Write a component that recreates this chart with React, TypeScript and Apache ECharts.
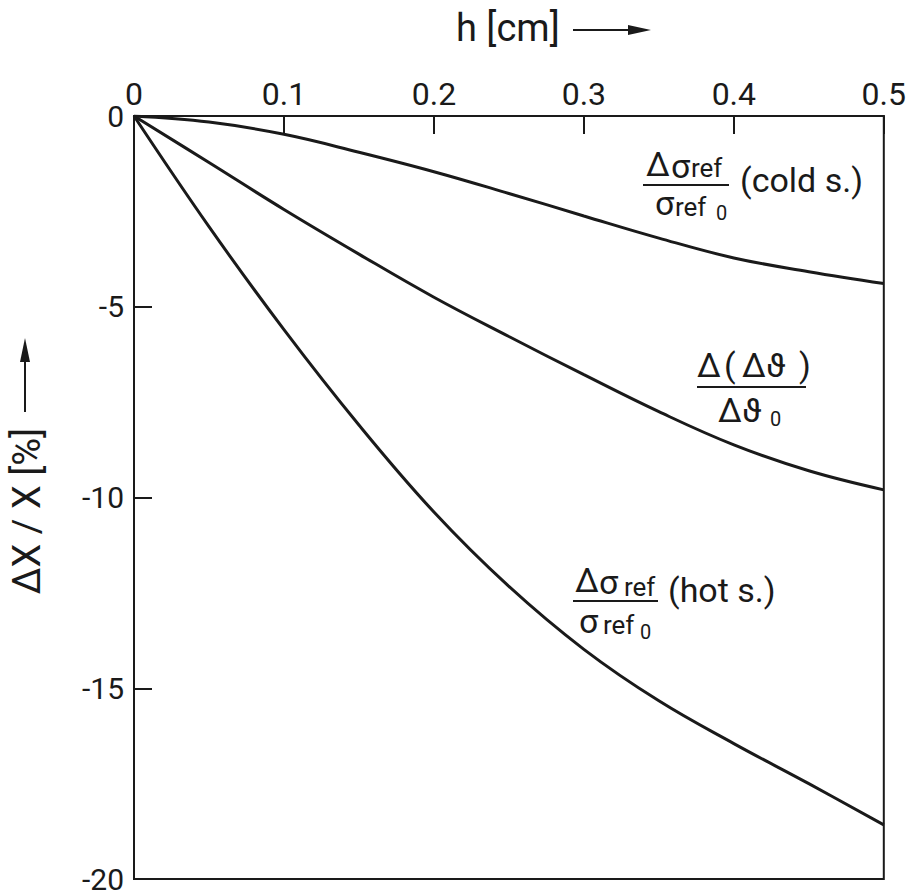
import React, { useEffect, useRef } from "react";
import * as echarts from "echarts";

// h [cm] sample positions
const hValues = [0, 0.05, 0.1, 0.15, 0.2, 0.25, 0.3, 0.35, 0.4, 0.45, 0.5];
// Δσref/σref0 (cold s.) [%]
const coldValues = [0, -0.16, -0.48, -0.95, -1.46, -2.03, -2.62, -3.2, -3.72, -4.08, -4.39];
// Δ(Δϑ)/Δϑ0 [%]
const deltaThetaValues = [0, -1.22, -2.45, -3.62, -4.75, -5.78, -6.78, -7.75, -8.62, -9.3, -9.8];
// Δσref/σref0 (hot s.) [%]
const hotValues = [0, -2.9, -5.6, -8.1, -10.38, -12.33, -13.98, -15.33, -16.45, -17.5, -18.58];

const xTicks = [0, 0.1, 0.2, 0.3, 0.4, 0.5];
const yTicks = [0, -5, -10, -15, -20];

const FONT = "Roboto, 'Liberation Sans', 'DejaVu Sans', sans-serif";
const INK = "#1a1a1a";

function txt(text: string, x: number, y: number, size: number, extra: any = {}) {
  return {
    type: "text",
    x,
    y,
    silent: true,
    ...extra,
    style: {
      text,
      font: `${size}px ${FONT}`,
      fill: INK,
      textAlign: extra.align || "left",
      textVerticalAlign: "middle",
    },
  };
}

function hline(x1: number, x2: number, y: number) {
  return {
    type: "line",
    silent: true,
    shape: { x1, y1: y, x2, y2: y },
    style: { stroke: INK, lineWidth: 2 },
  };
}

export default function App() {
  const ref = useRef<HTMLDivElement>(null);
  useEffect(() => {
    if (!ref.current) return;
    const chart = echarts.init(ref.current, null, { renderer: "svg" });
    const pair = (arr: number[]) => hValues.map((h, i) => [h, arr[i]]);
    const lineStyle = { color: INK, width: 3 };
    const graphic: any[] = [
      // x axis title
      txt("h [cm]", 456, 28, 38),
      { type: "line", silent: true, shape: { x1: 573, y1: 30, x2: 636, y2: 30 }, style: { stroke: INK, lineWidth: 2 } },
      { type: "polygon", silent: true, shape: { points: [[628, 25], [651, 30], [628, 35]] }, style: { fill: INK } },
      // y axis title
      txt("ΔX / X [%]", 27, 511, 38, { rotation: Math.PI / 2, align: "center" }),
      { type: "line", silent: true, shape: { x1: 25, y1: 412, x2: 25, y2: 355 }, style: { stroke: INK, lineWidth: 2 } },
      { type: "polygon", silent: true, shape: { points: [[20, 362], [25, 338], [30, 362]] }, style: { fill: INK } },
      // cold s.
      txt("Δ", 646, 164, 34),
      txt("σ", 671, 166, 34),
      txt("ref", 691, 168, 26),
      hline(643, 729, 185),
      txt("σ", 655, 203, 34),
      txt("ref", 675, 207, 26),
      txt("0", 716, 213, 20),
      txt("(cold s.)", 740, 180, 34),
      // Δ(Δϑ)
      txt("Δ", 697, 365, 34),
      txt("(", 724, 365, 34),
      txt("Δϑ", 742, 365, 34),
      txt(")", 799, 365, 34),
      hline(697, 806, 387),
      txt("Δϑ", 718, 410, 34),
      txt("0", 770, 419, 20),
      // hot s.
      txt("Δ", 575, 580, 34),
      txt("σ", 599, 582, 34),
      txt("ref", 624, 587, 26),
      hline(573, 658, 601),
      txt("σ", 579, 621, 34),
      txt("ref", 603, 625, 26),
      txt("0", 640, 632, 20),
      txt("(hot s.)", 668, 590, 34),
    ];
    chart.setOption({
      animation: false,
      backgroundColor: "#ffffff",
      grid: {
        left: 134,
        top: 116,
        width: 751,
        height: 763,
        show: true,
        borderColor: INK,
        borderWidth: 2,
        backgroundColor: "transparent",
      },
      xAxis: {
        type: "value",
        position: "top",
        min: xTicks[0],
        max: xTicks[xTicks.length - 1],
        interval: 0.1,
        axisLine: { show: true, lineStyle: { color: INK, width: 2 } },
        axisTick: { show: true, inside: true, length: 18, lineStyle: { color: INK, width: 2 } },
        splitLine: { show: false },
        axisLabel: {
          fontFamily: FONT,
          fontSize: 32,
          lineHeight: 28,
          color: INK,
          margin: 8,
          formatter: (v: number) => String(Math.round(v * 10) / 10),
        },
      },
      yAxis: {
        type: "value",
        min: yTicks[yTicks.length - 1],
        max: yTicks[0],
        interval: 5,
        axisLine: { show: true, lineStyle: { color: INK, width: 2 } },
        axisTick: { show: true, inside: true, length: 18, lineStyle: { color: INK, width: 2 } },
        splitLine: { show: false },
        axisLabel: {
          fontFamily: FONT,
          fontSize: 30,
          color: INK,
          margin: 10,
          formatter: (v: number) => String(v),
        },
      },
      series: [
        { type: "line", name: "cold", data: pair(coldValues), smooth: 0.4, showSymbol: false, symbol: "none", lineStyle },
        { type: "line", name: "deltaTheta", data: pair(deltaThetaValues), smooth: 0.4, showSymbol: false, symbol: "none", lineStyle },
        { type: "line", name: "hot", data: pair(hotValues), smooth: 0.4, showSymbol: false, symbol: "none", lineStyle },
      ],
      graphic,
    });
    return () => chart.dispose();
  }, []);
  return (
    <div
      ref={ref}
      style={{ position: "absolute", left: 0, top: 0, width: 909, height: 895, background: "#fff" }}
    />
  );
}
